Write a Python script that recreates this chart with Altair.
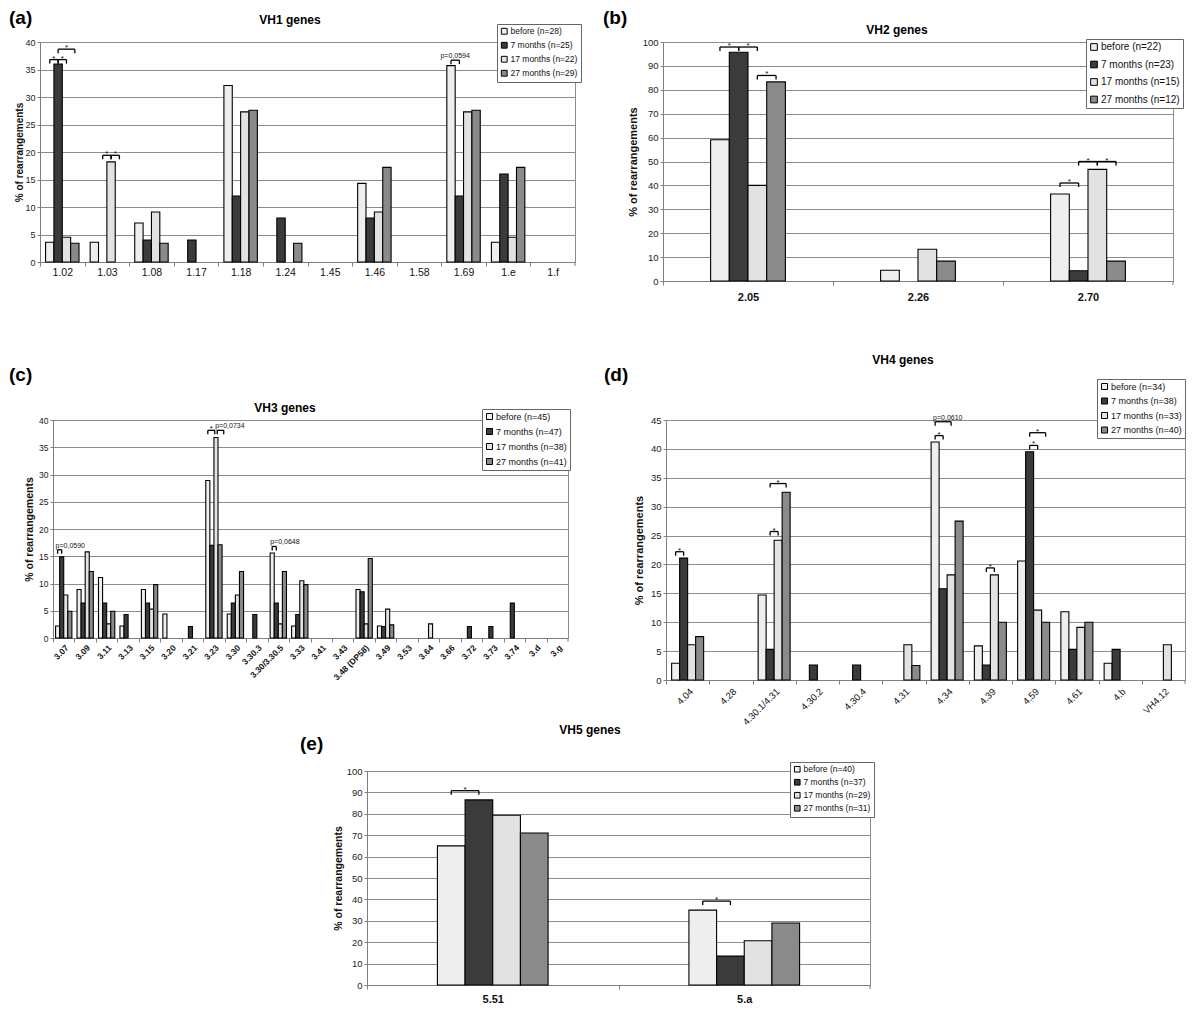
import json
import pandas as pd
import altair as alt

FONT = "Liberation Sans"
SERIES = ["before", "7 months", "17 months", "27 months"]
FILLS = ["#eeeeee", "#3b3b3b", "#e2e2e2", "#8a8a8a"]
GRID = "#8c8c8c"

# ---------------- (a) VH1 ----------------
vh1_genes = ["1.02", "1.03", "1.08", "1.17", "1.18", "1.24", "1.45", "1.46", "1.58", "1.69", "1.e", "1.f"]
vh1_n = [28, 25, 22, 29]
vh1_before = [3.6, 3.6, 7.1, 0, 32.1, 0, 0, 14.3, 0, 35.7, 3.6, 0]
vh1_7m = [36.0, 0, 4.0, 4.0, 12.0, 8.0, 0, 8.0, 0, 12.0, 16.0, 0]
vh1_17m = [4.5, 18.2, 9.1, 0, 27.3, 0, 0, 9.1, 0, 27.3, 4.5, 0]
vh1_27m = [3.4, 0, 3.4, 0, 27.6, 3.4, 0, 17.2, 0, 27.6, 17.2, 0]
# (gene index, from bar, to bar, height, text)
vh1_brackets = [(0, 0, 1, 36.8, "*"), (0, 1, 2, 36.8, "*"), (0, 1, 3, 38.7, "*"),
                (1, 1, 2, 19.4, "*"), (1, 2, 3, 19.4, "*"), (9, 0, 1, 36.7, "p=0,0594")]

# ---------------- (b) VH2 ----------------
vh2_genes = ["2.05", "2.26", "2.70"]
vh2_n = [22, 23, 15, 12]
vh2_before = [59.1, 4.5, 36.4]
vh2_7m = [95.7, 0, 4.3]
vh2_17m = [40.0, 13.3, 46.7]
vh2_27m = [83.3, 8.3, 8.3]
vh2_brackets = [(0, 0, 1, 97.9, "*"), (0, 1, 2, 97.9, "*"), (0, 2, 3, 86.0, "*"),
                (2, 0, 1, 41.0, "*"), (2, 1, 2, 50.0, "*"), (2, 2, 3, 50.0, "*")]

# ---------------- (c) VH3 ----------------
vh3_genes = ["3.07", "3.09", "3.11", "3.13", "3.15", "3.20", "3.21", "3.23", "3.30", "3.30.3",
             "3.30/3.30.5", "3.33", "3.41", "3.43", "3.48 (DP58)", "3.49", "3.53", "3.64", "3.66",
             "3.72", "3.73", "3.74", "3.d", "3.g"]
vh3_n = [45, 47, 38, 41]
vh3_before = [2.2, 8.9, 11.1, 2.2, 8.9, 4.4, 0, 28.9, 4.4, 0, 15.6, 2.2, 0, 0, 8.9, 2.2, 0, 0, 0, 0, 0, 0, 0, 0]
vh3_7m = [14.9, 6.4, 6.4, 4.3, 6.4, 0, 2.1, 17.0, 6.4, 4.3, 6.4, 4.3, 0, 0, 8.5, 2.1, 0, 0, 0, 2.1, 2.1, 6.4, 0, 0]
vh3_17m = [7.9, 15.8, 2.6, 0, 5.3, 0, 0, 36.8, 7.9, 0, 2.6, 10.5, 0, 0, 2.6, 5.3, 0, 2.6, 0, 0, 0, 0, 0, 0]
vh3_27m = [4.9, 12.2, 4.9, 0, 9.8, 0, 0, 17.1, 12.2, 0, 12.2, 9.8, 0, 0, 14.6, 2.4, 0, 0, 0, 0, 0, 0, 0, 0]
vh3_brackets = [(0, 0, 1, 16.2, "p=0,0590"), (7, 0, 1.7, 38.1, "*"), (7, 2.3, 3.9, 38.1, "p=0,0734"),
                (10, 0, 1, 16.8, "p=0,0648")]

# ---------------- (d) VH4 ----------------
vh4_genes = ["4.04", "4.28", "4.30.1/4.31", "4.30.2", "4.30.4", "4.31", "4.34", "4.39", "4.59",
             "4.61", "4.b", "VH4.12"]
vh4_n = [34, 38, 33, 40]
vh4_before = [2.9, 0, 14.7, 0, 0, 0, 41.2, 5.9, 20.6, 11.8, 2.9, 0]
vh4_7m = [21.1, 0, 5.3, 2.6, 2.6, 0, 15.8, 2.6, 39.5, 5.3, 5.3, 0]
vh4_17m = [6.1, 0, 24.2, 0, 0, 6.1, 18.2, 18.2, 12.1, 9.1, 0, 6.1]
vh4_27m = [7.5, 0, 32.5, 0, 0, 2.5, 27.5, 10.0, 10.0, 10.0, 0, 0]
vh4_brackets = [(0, 0, 1, 22.2, "*"), (2, 1, 2, 25.7, "*"), (2, 1, 3, 34.0, "*"),
                (6, 0, 1, 42.3, "*"), (6, 0, 2, 44.7, "p=0,0610"), (7, 1, 2, 19.4, "*"),
                (8, 1, 2, 40.6, "*"), (8, 1, 3, 42.8, "*")]

# ---------------- (e) VH5 ----------------
vh5_genes = ["5.51", "5.a"]
vh5_n = [40, 37, 29, 31]
vh5_before = [65.0, 35.0]
vh5_7m = [86.5, 13.5]
vh5_17m = [79.3, 20.7]
vh5_27m = [71.0, 29.0]
vh5_brackets = [(0, 0, 1, 90.8, "*"), (1, 0, 1, 39.2, "*")]


def text_layer(label, x, y, size, align="center"):
    return (alt.Chart(pd.DataFrame({"label": [label]}))
            .mark_text(font=FONT, fontSize=size, fontWeight="bold", align=align,
                       baseline="middle", color="#000000")
            .encode(text="label:N", x=alt.value(x), y=alt.value(y)))


def make_panel(genes, n_vals, series_vals, ymax, ystep, width, height, bar_frac,
               brackets, o, headings):
    N = len(genes)
    labels = [f"{s} (n={n})" for s, n in zip(SERIES, n_vals)]
    w_bar = bar_frac / 4.0
    start = (1 - bar_frac) / 2.0

    rows = []
    for j, vals in enumerate(series_vals):
        for i, v in enumerate(vals):
            if v > 0:
                x0 = i + start + j * w_bar
                rows.append({"gene": genes[i], "series": labels[j], "x0": x0,
                             "x1": x0 + w_bar, "value": v, "base": 0})
    bars_df = pd.DataFrame(rows)

    def center(i, j):
        return i + start + (j + 0.5) * w_bar

    rule_rows, end_rows, star_rows, p_rows = [], [], [], []
    for gi, ja, jb, h, txt in brackets:
        xa, xb = center(gi, ja), center(gi, jb)
        rule_rows.append({"x0": xa, "x1": xb, "value": h})
        end_rows += [{"x0": xa, "value": h}, {"x0": xb, "value": h}]
        if txt == "*":
            star_rows.append({"x0": (xa + xb) / 2, "value": h, "t": txt})
        else:
            px = xa if o["palign"] == "left" else (xa + xb) / 2
            p_rows.append({"x0": px, "value": h, "t": txt})

    names_js = json.dumps(genes)
    step = width / N
    x_enc = alt.X(
        "x0:Q",
        scale=alt.Scale(domain=[0, N], nice=False, zero=False),
        axis=alt.Axis(
            values=list(range(N)),
            labelExpr=f"{names_js}[datum.value]",
            labelOffset=step / 2, title=None, grid=False, tickSize=4,
            tickColor="#7f7f7f", domainColor="#7f7f7f", labelFont=FONT,
            labelFontSize=o["xfs"], labelFontWeight=o["xfw"], labelColor="#111111",
            labelAngle=o["xangle"], labelAlign=o["xalign"], labelBaseline="top",
            labelPadding=o["xpad"], labelOverlap=False, labelFlush=False, labelBound=False,
        ),
    )
    y_enc = alt.Y(
        "value:Q",
        scale=alt.Scale(domain=[0, ymax], nice=False, zero=True),
        axis=alt.Axis(
            values=list(range(0, ymax + 1, ystep)), title="% of rearrangements",
            grid=True, gridColor=GRID, gridWidth=1, tickSize=3, tickColor="#7f7f7f",
            domainColor="#7f7f7f", labelFont=FONT, labelFontSize=o["yfs"], labelColor="#222222",
            labelPadding=2, titleFont=FONT, titleFontSize=o["tfs"], titleFontWeight="bold",
            titleColor="#111111", titlePadding=o["tpad"],
        ),
    )

    bars = alt.Chart(bars_df).mark_bar(stroke="black", strokeWidth=1.1).encode(
        x=x_enc, x2=alt.X2("x1:Q"), y=y_enc, y2=alt.Y2("base:Q"),
        color=alt.Color(
            "series:N", title=None,
            scale=alt.Scale(domain=labels, range=FILLS),
            legend=alt.Legend(
                orient="none", legendX=o["lx"], legendY=o["ly"], direction="vertical",
                fillColor="white", strokeColor="#666666", padding=3,
                symbolType="square", symbolSize=o["sym"], symbolStrokeColor="black",
                symbolStrokeWidth=1, labelFont=FONT, labelFontSize=o["lfs"],
                labelColor="#111111", rowPadding=o["lrp"], labelOffset=2, labelLimit=200,
            ),
        ),
    )
    layers = [bars]
    # closing category tick at the right end of the x axis
    layers.append(alt.Chart(pd.DataFrame({"x0": [N], "value": [0]}))
                  .mark_tick(orient="vertical", size=4, thickness=1, yOffset=2, color="#7f7f7f", opacity=1)
                  .encode(x=x_enc, y=y_enc))
    layers.append(alt.Chart(pd.DataFrame(rule_rows)).mark_rule(color="black", strokeWidth=1.3)
                  .encode(x=x_enc, x2=alt.X2("x1:Q"), y=y_enc))
    layers.append(alt.Chart(pd.DataFrame(end_rows))
                  .mark_tick(orient="vertical", size=4, thickness=1.3, yOffset=2, color="black", opacity=1)
                  .encode(x=x_enc, y=y_enc))
    if star_rows:
        layers.append(alt.Chart(pd.DataFrame(star_rows))
                      .mark_text(font=FONT, fontSize=8, align="center", baseline="alphabetic", dy=1, color="#111111")
                      .encode(x=x_enc, y=y_enc, text="t:N"))
    if p_rows:
        layers.append(alt.Chart(pd.DataFrame(p_rows))
                      .mark_text(font=FONT, fontSize=7, align=o["palign"], baseline="alphabetic",
                                 dy=-2, dx=o["pdx"], color="#111111")
                      .encode(x=x_enc, y=y_enc, text="t:N"))
    layers += headings
    return alt.layer(*layers).properties(
        width=width, height=height,
        view=alt.ViewBackground(stroke=GRID, strokeWidth=1),
    )


flat = dict(xangle=0, xalign="center", palign="center", pdx=0)
rot = dict(xangle=315, xalign="right", palign="left", pdx=-2)

panel_a = make_panel(vh1_genes, vh1_n, [vh1_before, vh1_7m, vh1_17m, vh1_27m], 40, 5, 535, 220, 0.75,
                     vh1_brackets,
                     dict(flat, xfs=10.5, xfw="normal", xpad=1, yfs=9, tfs=10, tpad=0,
                          lx=457, ly=-18, sym=34, lfs=8.5, lrp=3),
                     [text_layer("VH1 genes", 250, -22, 12), text_layer("(a)", -31, -24, 19, "left")])
panel_b = make_panel(vh2_genes, vh2_n, [vh2_before, vh2_7m, vh2_17m, vh2_27m], 100, 10, 510, 239, 0.44,
                     vh2_brackets,
                     dict(flat, xfs=11, xfw="bold", xpad=6, yfs=9.5, tfs=11, tpad=4,
                          lx=423, ly=-3, sym=45, lfs=10, lrp=5.5),
                     [text_layer("VH2 genes", 234, -12, 12), text_layer("(b)", -60, -24, 19, "left")])
# panel (c) also carries the heading of panel (e), which sits in the gap below it
panel_c = make_panel(vh3_genes, vh3_n, [vh3_before, vh3_7m, vh3_17m, vh3_27m], 40, 5, 515, 218, 0.76,
                     vh3_brackets,
                     dict(rot, xfs=8.5, xfw="bold", xpad=1, yfs=8.5, tfs=10.5, tpad=4,
                          lx=429, ly=-11, sym=36, lfs=9, lrp=4),
                     [text_layer("VH3 genes", 232, -12, 12), text_layer("(c)", -44, -45, 19, "left"),
                      text_layer("VH5 genes", 537, 310, 12), text_layer("(e)", 247, 324, 19, "left")])
panel_d = make_panel(vh4_genes, vh4_n, [vh4_before, vh4_7m, vh4_17m, vh4_27m], 45, 5, 519, 260, 0.74,
                     vh4_brackets,
                     dict(rot, xfs=9.5, xfw="normal", xpad=2, yfs=9.5, tfs=11, tpad=6,
                          lx=431, ly=-41, sym=36, lfs=9, lrp=3.5),
                     [text_layer("VH4 genes", 237, -60, 12), text_layer("(d)", -62, -45, 19, "left")])
panel_e = make_panel(vh5_genes, vh5_n, [vh5_before, vh5_7m, vh5_17m, vh5_27m], 100, 10, 503, 214, 0.44,
                     vh5_brackets,
                     dict(flat, xfs=11, xfw="bold", xpad=4, yfs=9.5, tfs=10.5, tpad=3,
                          lx=423, ly=-9, sym=32, lfs=8.5, lrp=2),
                     [])


def spacer(w, h):
    return alt.Chart(pd.DataFrame({"s": [0]})).mark_rect(opacity=0).encode(
        x=alt.value(0), x2=alt.value(w), y=alt.value(0), y2=alt.value(h)
    ).properties(width=w, height=h)


def row(*items):
    return alt.hconcat(*items, spacing=0, bounds="flush").resolve_scale(
        color="independent").resolve_legend(color="independent")


row1 = row(spacer(1, 1), panel_a, spacer(88, 1), panel_b)
row2 = row(spacer(14, 1), panel_c, spacer(98, 1), panel_d)
row3 = row(spacer(328, 1), panel_e)

chart = alt.vconcat(
    row1, spacer(1, 48), row2, spacer(1, 4), row3, spacing=0,
).resolve_scale(color="independent").resolve_legend(color="independent").properties(
    padding=0, background="white"
).configure(font=FONT).configure_view(stroke="transparent")

chart.save("out.html", embed_options={"renderer": "svg", "actions": False})
